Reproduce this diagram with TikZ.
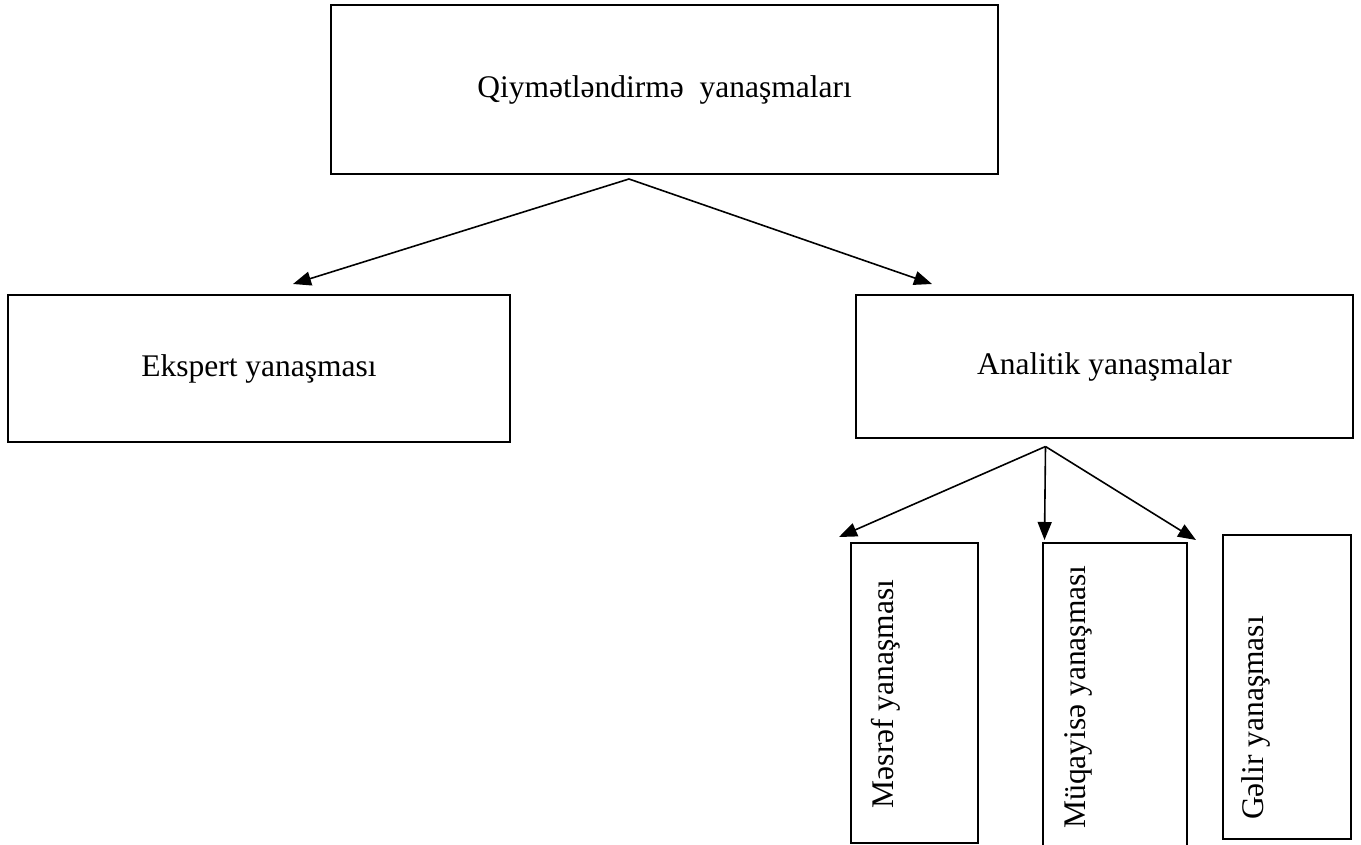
\documentclass[tikz,border=0pt]{standalone}
\usepackage{fontspec}
\setmainfont{Liberation Serif}
\usetikzlibrary{arrows.meta}

\begin{document}
\begin{tikzpicture}[x=1pt, y=-1pt, line width=2pt,
    box/.style={draw, inner sep=0pt},
    lbl/.style={font=\fontsize{31.5}{36}\selectfont},
    arr/.style={-{Triangle[length=18pt,width=14pt]}, line width=1.6pt}]
            \useasboundingbox (0,0) rectangle (1361,845);
            \begin{scope}
            \clip (0,0) rectangle (1361,845);
            \node[box, lbl, minimum width=667pt, minimum height=169pt] (qiym) at (664.5,89.5) {Qiymətləndirmə\ \ yanaşmaları};
            \node[box, lbl, minimum width=502pt, minimum height=147pt] (ekspert) at (259,368.5) {Ekspert yanaşması};
            \node[box, lbl, minimum width=497pt, minimum height=143pt] (analitik) at (1104.5,366.5) {Analitik yanaşmalar};
            \node[box, minimum width=127pt, minimum height=300pt] (masraf) at (914.5,693) {};
            \node[box, minimum width=144pt, minimum height=317pt] (muqayise) at (1115,701.5) {};
            \node[box, minimum width=128pt, minimum height=304pt] (gelir) at (1287,687) {};
            \node[lbl, rotate=90] (masrafT) at (886,694) {Məsrəf yanaşması};
            \node[lbl, rotate=90] (muqayiseT) at (1078,697) {Müqayisə yanaşması};
            \node[lbl, rotate=90] (gelirT) at (1256,718) {Gəlir yanaşması};
            \end{scope}
            \coordinate (fork1) at (629,179);
            \coordinate (fork2) at (1045.5,446.5);
            \draw[arr] (fork1) -- ([shift={(34,-10)}]ekspert.north);
            \draw[arr] (fork1) -- ([shift={(77,-10)}]analitik.north west);
            \draw[arr] (fork2) -- ([shift={(-11,-5)}]masraf.north west);
            \draw[arr] (fork2) -- ([shift={(2.5,-2)}]muqayise.north west);
            \draw[arr] (fork2) -- ([shift={(8,-2)}]muqayise.north east);
        \end{tikzpicture}
\end{document}
